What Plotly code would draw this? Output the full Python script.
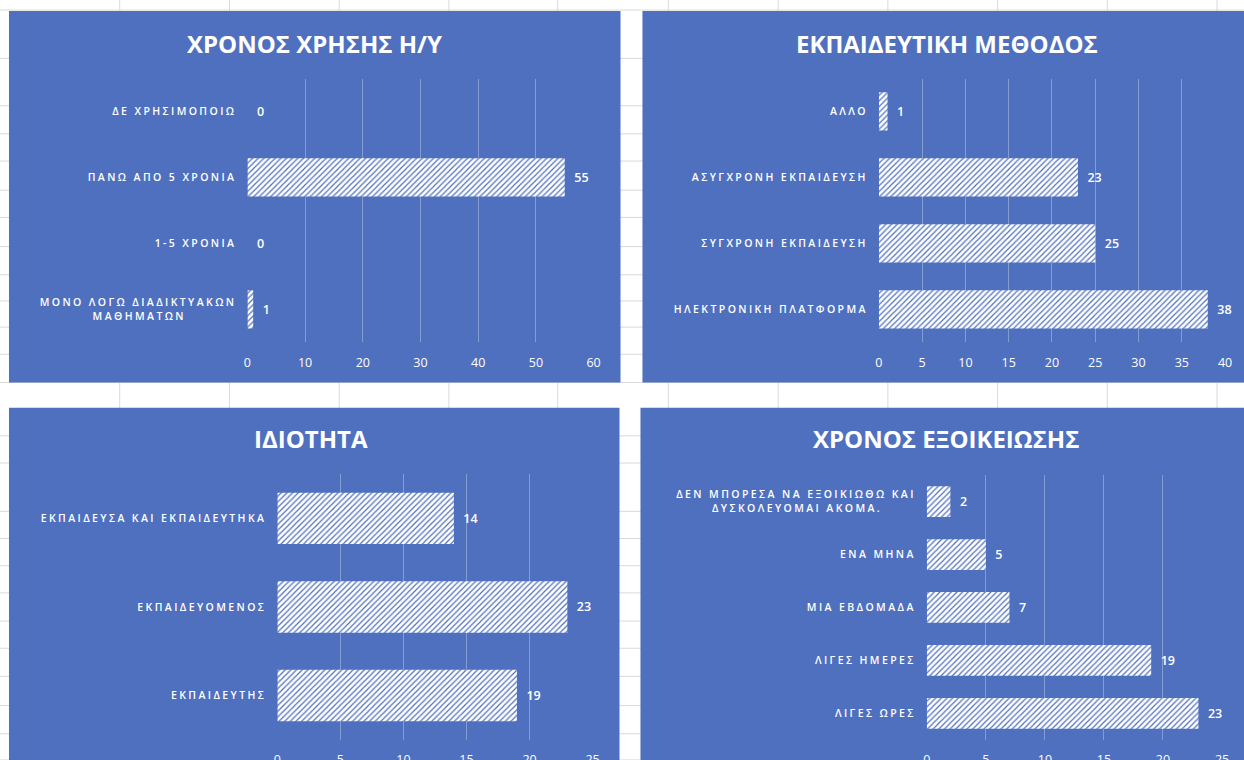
import plotly.graph_objects as go

# ---------------- data ----------------
title1 = "ΧΡΟΝΟΣ ΧΡΗΣΗΣ Η/Υ"
cats1 = ["ΜΟΝΟ ΛΟΓΩ ΔΙΑΔΙΚΤΥΑΚΩΝ<br>ΜΑΘΗΜΑΤΩΝ", "1-5 ΧΡΟΝΙΑ", "ΠΑΝΩ ΑΠΟ 5 ΧΡΟΝΙΑ", "ΔΕ ΧΡΗΣΙΜΟΠΟΙΩ"]
vals1 = [1, 0, 55, 0]
ticks1 = [0, 10, 20, 30, 40, 50, 60]

title2 = "ΕΚΠΑΙΔΕΥΤΙΚΗ ΜΕΘΟΔΟΣ"
cats2 = ["ΗΛΕΚΤΡΟΝΙΚΗ ΠΛΑΤΦΟΡΜΑ", "ΣΥΓΧΡΟΝΗ ΕΚΠΑΙΔΕΥΣΗ", "ΑΣΥΓΧΡΟΝΗ ΕΚΠΑΙΔΕΥΣΗ", "ΑΛΛΟ"]
vals2 = [38, 25, 23, 1]
ticks2 = [0, 5, 10, 15, 20, 25, 30, 35, 40]

title3 = "ΙΔΙΟΤΗΤΑ"
cats3 = ["ΕΚΠΑΙΔΕΥΤΗΣ", "ΕΚΠΑΙΔΕΥΟΜΕΝΟΣ", "ΕΚΠΑΙΔΕΥΣΑ ΚΑΙ ΕΚΠΑΙΔΕΥΤΗΚΑ"]
vals3 = [19, 23, 14]
ticks3 = [0, 5, 10, 15, 20, 25]

title4 = "ΧΡΟΝΟΣ ΕΞΟΙΚΕΙΩΣΗΣ"
cats4 = ["ΛΙΓΕΣ ΩΡΕΣ", "ΛΙΓΕΣ ΗΜΕΡΕΣ", "ΜΙΑ ΕΒΔΟΜΑΔΑ", "ΕΝΑ ΜΗΝΑ",
         "ΔΕΝ ΜΠΟΡΕΣΑ ΝΑ ΕΞΟΙΚΙΩΘΩ ΚΑΙ<br>ΔΥΣΚΟΛΕΥΟΜΑΙ ΑΚΟΜΑ."]
vals4 = [23, 19, 7, 5, 2]
ticks4 = [0, 5, 10, 15, 20, 25]

# ---------------- style ----------------
W, H = 1244, 760          # reference frame used for positions
FIG_W, FIG_H = 1252, 768  # figure size
DX, DY = -3, -2           # small alignment offset
BLUE = "#4F70BE"
GRID = "#859CD2"
SHEET = "#d9d9d9"
FONT = "Open Sans, DejaVu Sans, sans-serif"
LS = 2.4


def fmt(label):
    lines = label.split("<br>")
    longest = max(len(l) for l in lines)
    out = []
    for l in lines:
        pad = "\u2007" * round((longest - len(l)) / 2)
        out.append(f"<span style='letter-spacing:{LS}px'>{l}{pad}</span>")
    return "<br>".join(out)


def px(x):
    return (x + DX) / W


def py(y):
    return 1 - (y + DY) / H


panels = [
    (title1, cats1, vals1, ticks1, (8, 13, 621, 382), (247, 80, 594, 342), (314, 45)),
    (title2, cats2, vals2, ticks2, (643, 13, 1260, 382), (880, 80, 1227, 342), (948, 45)),
    (title3, cats3, vals3, ticks3, (8, 407, 620, 775), (277, 473, 593, 737), (311, 438)),
    (title4, cats4, vals4, ticks4, (641, 407, 1260, 775), (928, 474, 1224, 737), (947, 438)),
]

fig = go.Figure()
shapes = []
annotations = []

for x in [119, 229, 339, 449, 558, 669, 779, 889, 999, 1109, 1219]:
    shapes.append(dict(type="line", xref="paper", yref="paper", x0=px(x), x1=px(x), y0=-0.1, y1=1.1,
                       line=dict(color=SHEET, width=1), layer="below"))
for y in [12, 60, 107, 135, 162, 191, 218, 247, 275, 301, 327, 354, 382,
          435, 462, 510, 537, 564, 591, 619, 646, 674, 703, 731, 757]:
    shapes.append(dict(type="line", xref="paper", yref="paper", x0=-0.1, x1=1.1, y0=py(y), y1=py(y),
                       line=dict(color=SHEET, width=1), layer="below"))

layout_axes = {}
for i, (title, cats, vals, ticks, prect, arect, tpos) in enumerate(panels, start=1):
    sx = "" if i == 1 else str(i)
    shapes.append(dict(type="rect", xref="paper", yref="paper",
                       x0=px(prect[0]), x1=px(prect[2]), y0=py(prect[3]), y1=py(prect[1]),
                       fillcolor=BLUE, line=dict(width=0), layer="below"))
    annotations.append(dict(text=f"<b>{title}</b>", xref="paper", yref="paper",
                            x=px(tpos[0]), y=py(tpos[1]), xanchor="center", yanchor="middle",
                            showarrow=False, font=dict(family=FONT, size=24, color="white")))
    fig.add_trace(go.Bar(
        x=vals, y=cats, orientation="h", width=0.58,
        xaxis="x" + sx, yaxis="y" + sx,
        marker=dict(color="white",
                    pattern=dict(shape="/", fgcolor=BLUE, bgcolor="white", size=4,
                                 solidity=0.3, fillmode="replace"),
                    line=dict(width=0)),
        texttemplate="\u00a0\u00a0%{x}", textposition="outside",
        textfont=dict(family=FONT, size=12.5, color="white", weight=600),
        constraintext="none", cliponaxis=False, hoverinfo="skip",
    ))
    layout_axes["xaxis" + sx] = dict(
        domain=[px(arect[0]), px(arect[2])], range=[0, ticks[-1]], anchor="y" + sx,
        tickmode="array", tickvals=ticks, showgrid=True, gridcolor=GRID, gridwidth=1,
        zeroline=False, showline=False, ticks="", ticklabelstandoff=11,
        tickfont=dict(family=FONT, size=12.5, color="white"), fixedrange=True,
    )
    layout_axes["yaxis" + sx] = dict(
        domain=[py(arect[3]), py(arect[1])], anchor="x" + sx, type="category",
        range=[-0.5, len(cats) - 0.5], tickmode="array", tickvals=cats,
        ticktext=[fmt(c) for c in cats], showgrid=False, zeroline=False, showline=False,
        ticks="", ticklabelstandoff=10,
        tickfont=dict(family=FONT, size=10.5, color="white", weight=600), fixedrange=True,
    )

fig.update_layout(
    width=FIG_W, height=FIG_H, margin=dict(l=0, r=0, t=0, b=0),
    paper_bgcolor="white", plot_bgcolor="rgba(0,0,0,0)",
    showlegend=False, bargap=0.4, shapes=shapes, annotations=annotations,
    **layout_axes,
)

fig.write_html("out.html", config={"displayModeBar": False},
               post_script="document.body.style.margin='0';")
